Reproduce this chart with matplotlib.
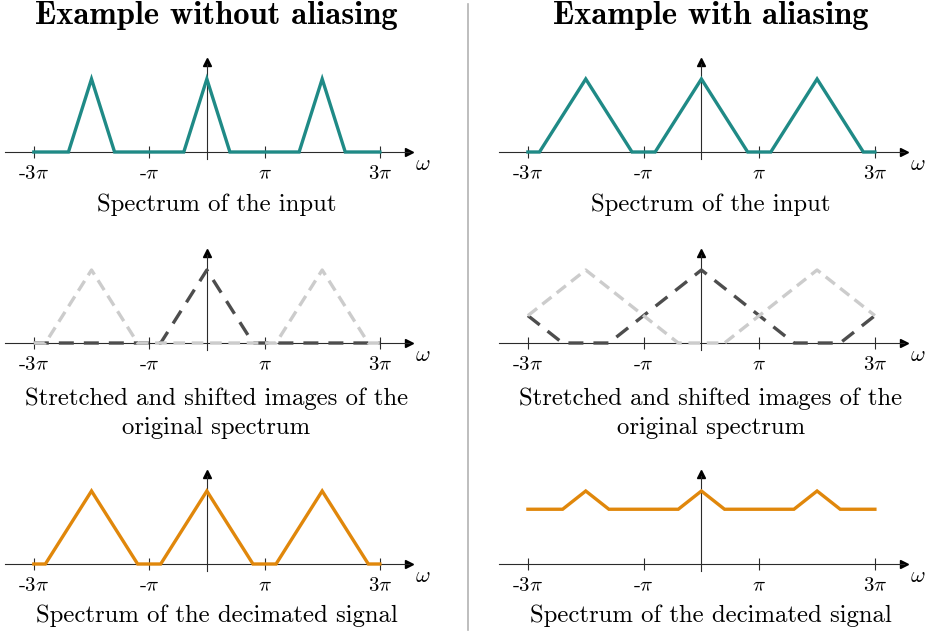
import matplotlib
matplotlib.use("Agg")
import matplotlib.pyplot as plt

plt.rcParams['font.family'] = 'cmr10'
plt.rcParams['mathtext.fontset'] = 'cm'
plt.rcParams['axes.unicode_minus'] = False
plt.rcParams['axes.formatter.use_mathtext'] = True

# Frequencies are in units of pi
tick_pos = [-3, -1, 1, 3]
tick_labels = [r'-3$\pi$', r'-$\pi$', r'$\pi$', r'3$\pi$']

# Example without aliasing
w_in_a = [-3, -2.4, -2, -1.6, -0.4, 0, 0.4, 1.6, 2, 2.4, 3]
s_in_a = [0, 0, 1, 0, 0, 1, 0, 0, 1, 0, 0]
w_img0_a = [-3, -0.8, 0, 0.8, 3]
s_img0_a = [0, 0, 1, 0, 0]
w_img1_a = [-3, -2.8, -2, -1.2, 1.2, 2, 2.8, 3]
s_img1_a = [0, 0, 1, 0, 0, 1, 0, 0]
w_out_a = [-3, -2.8, -2, -1.2, -0.8, 0, 0.8, 1.2, 2, 2.8, 3]
s_out_a = [0, 0, 1, 0, 0, 1, 0, 0, 1, 0, 0]

# Example with aliasing
w_in_b = [-3, -2.8, -2, -1.2, -0.8, 0, 0.8, 1.2, 2, 2.8, 3]
s_in_b = [0, 0, 1, 0, 0, 1, 0, 0, 1, 0, 0]
w_img0_b = [-3, -2.4, -1.6, 0, 1.6, 2.4, 3]
s_img0_b = [0.375, 0, 0, 1, 0, 0, 0.375]
w_img1_b = [-3, -2, -0.4, 0.4, 2, 3]
s_img1_b = [0.375, 1, 0, 0, 1, 0.375]
w_out_b = [-3, -2.4, -2, -1.6, -0.4, 0, 0.4, 1.6, 2, 2.4, 3]
s_out_b = [0.75, 0.75, 1, 0.75, 0.75, 1, 0.75, 0.75, 1, 0.75, 0.75]

titles = ['Example without aliasing', 'Example with aliasing']
captions = ['Spectrum of the input',
            'Stretched and shifted images of the\noriginal spectrum',
            'Spectrum of the decimated signal']

teal = '#1f8a86'
orange = '#e0870b'
dark = '#4d4d4d'
light = '#cccccc'
axis_col = '#2b2b2b'

W, H = 929, 634
fig = plt.figure(figsize=(W / 100, H / 100), dpi=100)

unit_y = 73.0
base_px = [152, 343, 564]
col_left = [5, 499]
col_unit = [57.67, 57.83]
col_center = [216.5, 711]
caption_off = [53, 70, 52]


def make_axes(col, row):
    left = col_left[col]
    width = 7 * col_unit[col]
    bottom = (H - base_px[row]) - 0.4 * unit_y
    ax = fig.add_axes([left / W, bottom / H, width / W, 1.7 * unit_y / H])
    ax.set_xlim(-3.5, 3.5)
    ax.set_ylim(-0.4, 1.3)
    ax.patch.set_visible(False)
    for s in ['top', 'right']:
        ax.spines[s].set_visible(False)
    ax.spines['bottom'].set_position(('data', 0))
    ax.spines['left'].set_position(('data', 0))
    ax.spines['left'].set_bounds(-0.1, 1.2)
    for s in ['bottom', 'left']:
        ax.spines[s].set_color(axis_col)
        ax.spines[s].set_linewidth(0.8)
    ax.plot(1, 0, '>', color='black', ms=6, transform=ax.get_yaxis_transform(), clip_on=False)
    ax.plot(0, 1.23, '^', color='black', ms=6, clip_on=False)
    ax.set_yticks([])
    ax.set_xticks(tick_pos)
    ax.set_xticklabels(tick_labels, fontsize=15)
    ax.tick_params(axis='x', direction='inout', length=9, width=0.8, color=axis_col, pad=5)
    ax.text(3.74, -0.17, r'$\omega$', fontsize=16, ha='center', va='center', clip_on=False)
    return ax


lw = 2.4
panels = [
    [(w_in_a, s_in_a), (w_img0_a, s_img0_a, w_img1_a, s_img1_a), (w_out_a, s_out_a)],
    [(w_in_b, s_in_b), (w_img0_b, s_img0_b, w_img1_b, s_img1_b), (w_out_b, s_out_b)],
]

for col in range(2):
    ax = make_axes(col, 0)
    w, s = panels[col][0]
    ax.plot(w, s, color=teal, lw=lw, solid_joinstyle='miter', zorder=3)

    ax = make_axes(col, 1)
    w0, s0, w1, s1 = panels[col][1]
    ax.plot(w0, s0, color=dark, lw=lw, dashes=(4.5, 3), zorder=3)
    ax.plot(w1, s1, color=light, lw=lw, dashes=(3.5, 2), zorder=4)

    ax = make_axes(col, 2)
    w, s = panels[col][2]
    ax.plot(w, s, color=orange, lw=lw, solid_joinstyle='miter', zorder=3)

    fig.text(col_center[col] / W, 1 - 15 / H, titles[col], family='cmb10',
             fontsize=23.5, ha='center', va='center')
    for row in range(3):
        fig.text(col_center[col] / W, 1 - (base_px[row] + caption_off[row]) / H,
                 captions[row], fontsize=17.8, ha='center', va='center', linespacing=1.4)

fig.add_artist(plt.Line2D([468 / W, 468 / W], [1 - 4 / H, 1 - 630 / H], color='#b3b3b3', lw=1.2))

fig.savefig('out.png', dpi=100)
